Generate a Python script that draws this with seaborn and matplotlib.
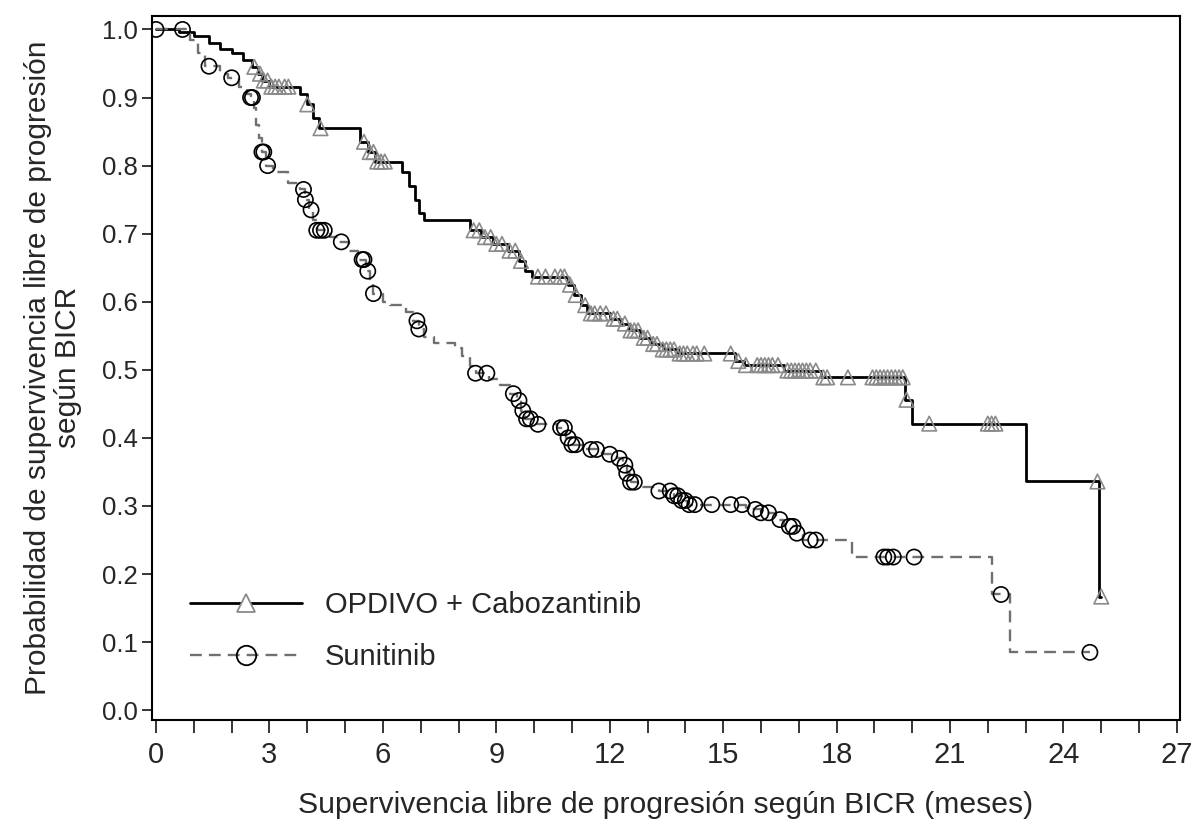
import numpy as np
import pandas as pd
import matplotlib
matplotlib.use("Agg")
import matplotlib.pyplot as plt
from matplotlib.lines import Line2D
import seaborn as sns

# --- OPDIVO + Cabozantinib: step times and survival level after each step
opd_time = [0, 0.6, 1.0, 1.4, 1.7, 2.0, 2.3, 2.55, 2.7, 2.8, 3.0, 3.8, 4.0, 4.15, 4.3,
            5.4, 5.6, 5.8, 6.5, 6.7, 6.85, 6.95, 7.1, 8.3, 8.6, 8.9, 9.3, 9.6, 9.75, 9.95,
            10.9, 11.05, 11.25, 11.4, 12.0, 12.3, 12.5, 12.8, 13.1, 13.4, 13.8, 15.3, 15.55,
            16.6, 17.6, 19.8, 20.0, 23.0, 24.95]
opd_surv = [1.0, 0.997, 0.99, 0.98, 0.972, 0.965, 0.955, 0.945, 0.935, 0.925, 0.916, 0.905,
            0.89, 0.87, 0.855, 0.835, 0.82, 0.806, 0.79, 0.77, 0.75, 0.73, 0.72, 0.705, 0.695,
            0.685, 0.675, 0.66, 0.645, 0.637, 0.625, 0.61, 0.595, 0.583, 0.575, 0.568, 0.558,
            0.547, 0.538, 0.53, 0.524, 0.513, 0.507, 0.499, 0.489, 0.456, 0.421, 0.336, 0.167]
opd_end = 25.0
opd_cens = [2.6, 2.75, 2.85, 2.95, 3.05, 3.15, 3.25, 3.4, 3.5, 4.0, 4.35, 5.5, 5.65, 5.75,
            5.85, 5.95, 6.05, 8.4, 8.55, 8.7, 8.85, 9.0, 9.15, 9.35, 9.5, 9.65, 10.1, 10.3,
            10.55, 10.7, 10.8, 10.95, 11.1, 11.35, 11.5, 11.6, 11.75, 11.9, 12.1, 12.2, 12.4,
            12.55, 12.65, 12.75, 12.9, 13.0, 13.15, 13.25, 13.4, 13.5, 13.6, 13.7, 13.85,
            13.95, 14.05, 14.2, 14.3, 14.5, 15.2, 15.4, 15.6, 15.9, 16.0, 16.1, 16.2, 16.3,
            16.45, 16.7, 16.8, 16.9, 17.0, 17.1, 17.2, 17.3, 17.45, 17.65, 17.75, 18.3, 18.95,
            19.05, 19.15, 19.25, 19.35, 19.45, 19.55, 19.65, 19.75, 19.85, 20.45, 22.0, 22.1,
            22.2, 24.9, 25.0]

# --- Sunitinib
sun_time = [0, 0.9, 1.1, 1.3, 1.7, 1.9, 2.2, 2.4, 2.5, 2.6, 2.65, 2.72, 2.8, 2.9, 3.1, 3.5,
            3.8, 3.95, 4.05, 4.15, 4.25, 4.6, 4.8, 5.1, 5.35, 5.55, 5.65, 5.75, 6.0, 6.2, 6.6,
            6.8, 6.95, 7.1, 7.35, 7.9, 8.1, 8.3, 8.45, 8.8, 9.1, 9.35, 9.55, 9.65, 9.75, 10.0,
            10.6, 10.85, 11.0, 11.3, 11.8, 12.2, 12.35, 12.45, 12.55, 12.75, 13.3, 13.7, 13.9,
            14.1, 15.6, 16.0, 16.4, 16.6, 16.95, 17.1, 18.4, 22.1, 22.58]
sun_surv = [1.0, 0.985, 0.965, 0.946, 0.935, 0.929, 0.915, 0.905, 0.9, 0.885, 0.86, 0.84,
            0.82, 0.8, 0.79, 0.775, 0.765, 0.75, 0.735, 0.72, 0.705, 0.695, 0.688, 0.675,
            0.662, 0.645, 0.628, 0.612, 0.6, 0.595, 0.585, 0.572, 0.56, 0.548, 0.54, 0.532,
            0.52, 0.505, 0.495, 0.487, 0.478, 0.465, 0.455, 0.44, 0.428, 0.42, 0.415, 0.4,
            0.39, 0.383, 0.376, 0.37, 0.36, 0.348, 0.335, 0.328, 0.322, 0.315, 0.308, 0.302,
            0.295, 0.29, 0.28, 0.27, 0.26, 0.25, 0.225, 0.17, 0.085]
sun_end = 24.7
sun_cens = [0.0, 0.7, 1.4, 2.0, 2.5, 2.55, 2.8, 2.85, 2.95, 3.9, 3.95, 4.1, 4.25, 4.35, 4.45,
            4.9, 5.45, 5.5, 5.6, 5.75, 6.9, 6.95, 8.45, 8.75, 9.45, 9.6, 9.7, 9.8, 9.9, 10.1,
            10.7, 10.8, 10.9, 11.0, 11.1, 11.5, 11.65, 12.0, 12.25, 12.4, 12.45, 12.55, 12.65,
            13.3, 13.6, 13.7, 13.8, 13.9, 14.0, 14.1, 14.25, 14.7, 15.2, 15.5, 15.85, 16.0,
            16.2, 16.5, 16.75, 16.85, 16.95, 17.3, 17.45, 19.25, 19.35, 19.5, 20.05, 22.35, 24.7]

labels = ["OPDIVO + Cabozantinib", "Sunitinib"]
x_ticks = list(range(0, 28, 3))
y_ticks = [0.0, 0.1, 0.2, 0.3, 0.4, 0.5, 0.6, 0.7, 0.8, 0.9, 1.0]


def curve_frame(times, surv, end):
    return pd.DataFrame({"time": times + [end], "surv": surv + [surv[-1]]})


def level_at(times, surv, t):
    idx = np.searchsorted(np.array(times), np.array(t), side="right") - 1
    return np.array(surv)[idx]


sns.set_style("ticks")
narrow = ["Liberation Sans Narrow", "Liberation Sans", "DejaVu Sans"]
plt.rcParams["font.family"] = narrow
plt.rcParams["font.stretch"] = "condensed"

fig = plt.figure(figsize=(11.93, 8.34), dpi=100)
ax = fig.add_axes([0.127, 0.137, 0.862, 0.844])

sun_grey = "#707070"
tri_grey = "#8a8a8a"

sns.lineplot(data=curve_frame(opd_time, opd_surv, opd_end), x="time", y="surv",
             drawstyle="steps-post", estimator=None, sort=False, color="black",
             lw=2.0, ax=ax)
sns.lineplot(data=curve_frame(sun_time, sun_surv, sun_end), x="time", y="surv",
             drawstyle="steps-post", estimator=None, sort=False, color=sun_grey,
             lw=1.7, linestyle=(0, (5, 3)), ax=ax)

sns.scatterplot(x=opd_cens, y=level_at(opd_time, opd_surv, opd_cens), marker="^",
                s=110, facecolor="none", edgecolor=tri_grey, linewidth=1.2, ax=ax, zorder=3)
sns.scatterplot(x=sun_cens, y=level_at(sun_time, sun_surv, sun_cens), marker="o",
                s=120, facecolor="none", edgecolor="black", linewidth=1.2, ax=ax, zorder=3)

ax.set_xlim(-0.12, 27.08)
ax.set_ylim(-0.014, 1.02)
ax.set_xticks(x_ticks)
ax.set_xticks(range(0, 28), minor=True)
ax.set_yticks(y_ticks)
ax.set_yticklabels([f"{v:.1f}" for v in y_ticks], family=["Liberation Sans", "DejaVu Sans"],
                   stretch="normal")
ax.tick_params(axis="x", which="both", length=9, width=1.3, labelsize=21, pad=6)
ax.tick_params(axis="y", length=7, width=1.3, labelsize=18.5, pad=3)
for sp in ax.spines.values():
    sp.set_linewidth(1.5)
    sp.set_color("black")

ax.set_xlabel("Supervivencia libre de progresión según BICR (meses)", fontsize=21.7,
              labelpad=16)
ax.set_ylabel("Probabilidad de supervivencia libre de progresión\nsegún BICR",
              fontsize=21.5, labelpad=14, linespacing=1.1)

handles = [
    Line2D([0], [0], color="black", lw=2.0, marker="^", ms=13, mfc="white",
           mec=tri_grey, mew=1.3),
    Line2D([0], [0], color=sun_grey, lw=1.7, linestyle=(0, (5, 3)), marker="o", ms=14,
           mfc="none", mec="black", mew=1.3),
]
ax.legend(handles, labels, loc="lower left", bbox_to_anchor=(0.012, 0.032), frameon=False,
          fontsize=21, handlelength=3.85, handletextpad=0.78, labelspacing=0.82, numpoints=1)

fig.savefig("out.png", dpi=100)
